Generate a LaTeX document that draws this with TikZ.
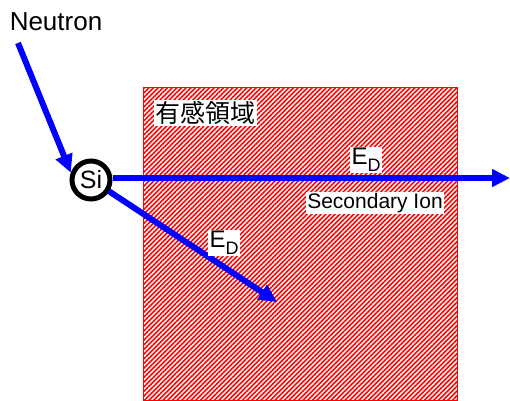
\documentclass[tikz,border=0pt]{standalone}
\usepackage{fontspec}
\setmainfont{Liberation Sans}
\newfontfamily\cjk{Noto Sans CJK JP}
\usetikzlibrary{arrows.meta,patterns.meta}
\newcommand{\ED}{E\raisebox{-7pt}{\fontsize{18}{18}\selectfont D}}
\begin{document}
\begin{tikzpicture}[x=1pt,y=-1pt,
  arr/.style={draw=blue,line width=6pt,-{Triangle[length=18pt,width=17pt]}},
  lab/.style={fill=white,inner sep=1.5pt},
  big/.style={font=\fontsize{24}{26}\selectfont}]
\useasboundingbox (0,0) rectangle (510,400);
\node[draw=red,line width=1pt,pattern={Lines[angle=45,distance=3.3pt,line width=1.6pt]},pattern color=red,
  minimum width=314pt,minimum height=313pt,inner sep=0pt,anchor=north west] (region) at (143,87) {};
\node[lab,font=\cjk\fontsize{25}{27}\selectfont] (title) at (205,113) {有感領域};
\node[circle,draw=black,fill=white,line width=5pt,minimum size=38pt,inner sep=0pt,font=\fontsize{25}{27}\selectfont] (si) at (91,180) {Si};
\node[font=\fontsize{26}{28}\selectfont,inner sep=0pt] (neutron) at (56,22) {Neutron};
\coordinate (n0) at (18,43);
\coordinate (e1) at (510,178);
\coordinate (e2) at (277,302);
\draw[arr] (n0) -- (si.160);
\draw[arr] (si.east |- e1) -- (e1);
\draw[arr] (si) ++(-32:21pt) -- (e2);
\node[lab,big] (ed1) at (366,160) {\ED};
\node[lab,font=\fontsize{21}{23}\selectfont] (sec) at (375,203) {Secondary Ion};
\node[lab,big] (ed2) at (224,243) {\ED};
\end{tikzpicture}
\end{document}
